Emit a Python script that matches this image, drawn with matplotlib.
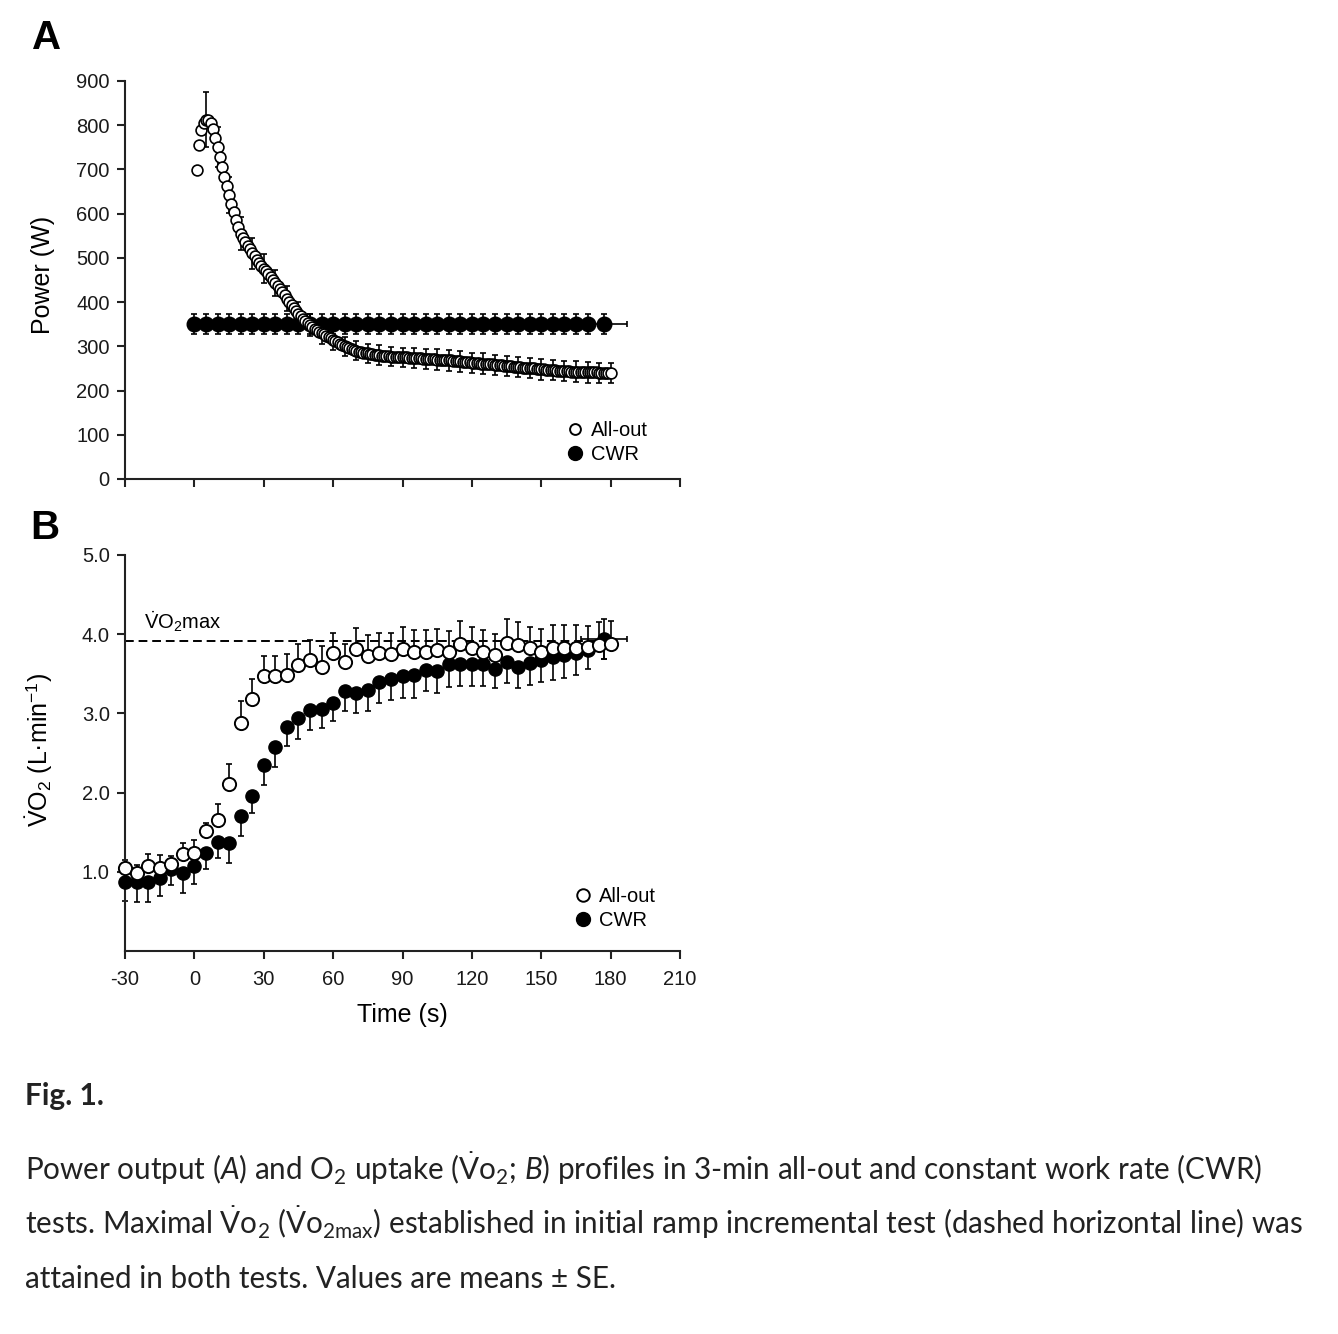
import numpy as np
import matplotlib
matplotlib.use("Agg")
import matplotlib.pyplot as plt
from matplotlib.lines import Line2D

plt.rcParams['font.family'] = ['Liberation Sans', 'DejaVu Sans']
plt.rcParams['axes.unicode_minus'] = False
plt.rcParams['mathtext.fontset'] = 'custom'
plt.rcParams['mathtext.rm'] = 'Liberation Sans'
plt.rcParams['mathtext.sf'] = 'Lato'
plt.rcParams['mathtext.it'] = 'Lato:italic'

# ---- panel A: power output ----
# all-out power, 1-s samples from t = 1 s to 180 s
allout_power = [
    699, 755, 790, 805, 812, 812, 805, 792, 772, 750,
    728, 706, 684, 662, 642, 622, 603, 586, 570, 555,
    545, 535, 527, 519, 511, 504, 496, 489, 482, 476,
    470, 463, 456, 449, 443, 436, 429, 422, 415, 408,
    401, 394, 387, 380, 374, 368, 362, 357, 352, 348,
    344, 340, 336, 333, 330, 327, 324, 321, 318, 315,
    312, 309, 306, 303, 300, 298, 296, 294, 292, 290,
    288, 287, 286, 285, 284, 283, 282, 281, 280, 280,
    279, 279, 278, 278, 277, 277, 276, 276, 276, 275,
    275, 275, 274, 274, 274, 273, 273, 273, 272, 272,
    272, 271, 271, 271, 270, 270, 270, 269, 269, 268,
    268, 267, 267, 266, 266, 265, 265, 264, 264, 263,
    263, 262, 262, 261, 261, 260, 260, 259, 259, 258,
    258, 257, 257, 256, 256, 255, 255, 254, 254, 253,
    253, 252, 252, 251, 251, 250, 250, 249, 249, 248,
    248, 247, 247, 246, 246, 246, 245, 245, 245, 244,
    244, 244, 243, 243, 243, 242, 242, 242, 242, 241,
    241, 241, 241, 241, 240, 240, 240, 240, 240, 240,
]
allout_time = np.arange(1, 181)
# SE of all-out power, shown every 5 s (t = 5 ... 180)
allout_power_se = [
    62, 45, 40, 38, 35, 33, 30, 28, 26, 25, 24, 23,
    22, 22, 22, 22, 22, 22, 22, 23, 23, 23, 23, 23,
    23, 23, 23, 23, 23, 23, 23, 23, 23, 23, 23, 23,
]

cwr_time_a = [0, 5, 10, 15, 20, 25, 30, 35, 40, 45, 50, 55, 60, 65, 70,
              75, 80, 85, 90, 95, 100, 105, 110, 115, 120, 125, 130, 135,
              140, 145, 150, 155, 160, 165, 170, 177]
cwr_power = [350, 350, 350, 350, 350, 350, 350, 350, 350, 350, 350, 350,
             350, 350, 350, 350, 350, 350, 350, 350, 350, 350, 350, 350,
             350, 350, 350, 350, 350, 350, 350, 350, 350, 350, 350, 350]
cwr_power_se = 22
cwr_end_se = 10  # SE of exhaustion time in CWR test (s)

# ---- panel B: VO2 ----
vo2_time = [-30, -25, -20, -15, -10, -5, 0, 5, 10, 15, 20, 25, 30, 35, 40,
            45, 50, 55, 60, 65, 70, 75, 80, 85, 90, 95, 100, 105, 110, 115,
            120, 125, 130, 135, 140, 145, 150, 155, 160, 165, 170, 175, 180]
allout_vo2 = [1.05, 0.99, 1.07, 1.05, 1.10, 1.23, 1.24, 1.52, 1.66, 2.11,
              2.88, 3.18, 3.47, 3.47, 3.48, 3.61, 3.67, 3.59, 3.76, 3.65,
              3.81, 3.73, 3.76, 3.75, 3.81, 3.78, 3.78, 3.80, 3.77, 3.87,
              3.82, 3.78, 3.74, 3.89, 3.86, 3.82, 3.78, 3.83, 3.83, 3.83,
              3.84, 3.86, 3.87]
allout_vo2_se = [0.10, 0.10, 0.16, 0.16, 0.10, 0.13, 0.16, 0.10, 0.19, 0.25,
                 0.28, 0.25, 0.25, 0.25, 0.27, 0.26, 0.26, 0.26, 0.26, 0.22,
                 0.27, 0.26, 0.25, 0.26, 0.28, 0.27, 0.27, 0.26, 0.27, 0.30,
                 0.27, 0.27, 0.26, 0.30, 0.29, 0.27, 0.28, 0.28, 0.29, 0.29,
                 0.26, 0.30, 0.30]

cwr_vo2_time = [-30, -25, -20, -15, -10, -5, 0, 5, 10, 15, 20, 25, 30, 35,
                40, 45, 50, 55, 60, 65, 70, 75, 80, 85, 90, 95, 100, 105,
                110, 115, 120, 125, 130, 135, 140, 145, 150, 155, 160, 165,
                170, 177]
cwr_vo2 = [0.87, 0.87, 0.87, 0.92, 1.03, 0.98, 1.07, 1.24, 1.38, 1.36,
           1.70, 1.96, 2.35, 2.57, 2.83, 2.94, 3.04, 3.06, 3.13, 3.28,
           3.26, 3.29, 3.40, 3.44, 3.47, 3.48, 3.55, 3.54, 3.62, 3.63,
           3.62, 3.62, 3.56, 3.65, 3.59, 3.64, 3.68, 3.71, 3.74, 3.76,
           3.80, 3.94]
cwr_vo2_se = [0.24, 0.25, 0.25, 0.23, 0.20, 0.25, 0.22, 0.20, 0.20, 0.25,
              0.25, 0.22, 0.25, 0.25, 0.24, 0.26, 0.25, 0.25, 0.23, 0.25,
              0.26, 0.26, 0.27, 0.27, 0.28, 0.28, 0.27, 0.28, 0.29, 0.29,
              0.28, 0.28, 0.24, 0.27, 0.27, 0.28, 0.28, 0.29, 0.29, 0.28,
              0.24, 0.25]
vo2max = 3.92

caption = [
    r"Power output ($\mathit{A}$) and O$_{\mathsf{2}}$ uptake "
    r"($\dot{\mathsf{V}}\mathsf{o}_{\mathsf{2}}$; $\mathit{B}$) profiles in "
    r"3-min all-out and constant work rate (CWR)",
    r"tests. Maximal $\dot{\mathsf{V}}\mathsf{o}_{\mathsf{2}}$ "
    r"($\dot{\mathsf{V}}\mathsf{o}_{\mathsf{2max}}$) established in initial "
    r"ramp incremental test (dashed horizontal line) was",
    r"attained in both tests. Values are means ± SE.",
]

W, H = 1338, 1334
fig = plt.figure(figsize=(W / 100, H / 100), dpi=100)
axA = fig.add_axes([125 / W, 1 - 479 / H, 555 / W, 398 / H])
axB = fig.add_axes([125 / W, 1 - 951 / H, 555 / W, 396 / H])

for ax in (axA, axB):
    for s in ('top', 'right'):
        ax.spines[s].set_visible(False)
    for s in ('left', 'bottom'):
        ax.spines[s].set_linewidth(1.5)
        ax.spines[s].set_color('#222222')
    ax.tick_params(direction='out', length=6, width=1.5, color='#222222',
                   labelsize=14.5, pad=5, labelcolor='#1a1a1a')
    ax.tick_params(axis='x', pad=8)
    ax.set_xlim(-30, 210)
    ax.set_xticks(np.arange(-30, 211, 30))
    ax.set_facecolor('none')

ebkw = dict(fmt='none', ecolor='black', elinewidth=1.2, capsize=2.5,
            capthick=1.2, zorder=2, clip_on=False)

# panel A
axA.errorbar(cwr_time_a, cwr_power, yerr=cwr_power_se, **ebkw)
axA.errorbar(cwr_time_a[-1:], cwr_power[-1:], xerr=cwr_end_se, **ebkw)
axA.plot(cwr_time_a, cwr_power, 'o', ms=10.5, color='black', zorder=3)
axA.errorbar(allout_time[4::5], allout_power[4::5], yerr=allout_power_se,
             **ebkw)
axA.plot(allout_time, allout_power, 'o', ms=7.8, mfc='white', mec='black',
         mew=1.2, zorder=4)
axA.set_ylim(0, 900)
axA.set_yticks(np.arange(0, 901, 100))
axA.set_xticklabels([])
axA.set_ylabel('Power (W)', fontsize=18)
axA.yaxis.set_label_coords(-0.127, 0.513)

# panel B
axB.hlines(vo2max, -30, 177, colors='black', linestyles=(0, (4.5, 2.5)),
           lw=1.4, zorder=1)
axB.errorbar(vo2_time, allout_vo2,
             yerr=[np.zeros(len(allout_vo2_se)), allout_vo2_se], **ebkw)
axB.errorbar(cwr_vo2_time, cwr_vo2,
             yerr=[cwr_vo2_se, np.zeros(len(cwr_vo2_se))], **ebkw)
axB.errorbar(cwr_vo2_time[-1:], cwr_vo2[-1:], xerr=cwr_end_se,
             yerr=cwr_vo2_se[-1], **ebkw)
axB.plot(cwr_vo2_time, cwr_vo2, 'o', ms=9.5, color='black', zorder=3,
         clip_on=False)
axB.plot(vo2_time, allout_vo2, 'o', ms=9.5, mfc='white', mec='black',
         mew=1.4, zorder=4, clip_on=False)
axB.set_ylim(0, 5)
axB.set_yticks([1, 2, 3, 4, 5])
axB.set_yticklabels(['1.0', '2.0', '3.0', '4.0', '5.0'])
axB.set_xlabel('Time (s)', fontsize=18, labelpad=10)
axB.set_ylabel(r'$\dot{\mathrm{V}}\mathrm{O}_2$ (L·min$^{-1}$)', fontsize=18)
axB.yaxis.set_label_coords(-0.127, 0.508)
axB.text(-22, 4.07, r'$\dot{\mathrm{V}}\mathrm{O}_2$max', fontsize=14.5,
         va='baseline', ha='left')

# legends
for ax, xy, ms_open, ms_fill in ((axA, (569, 421), 7.8, 10),
                                 (axB, (577, 887), 9, 10)):
    handles = [Line2D([], [], ls='none', marker='o', ms=ms_open, mfc='white',
                      mec='black', mew=1.4),
               Line2D([], [], ls='none', marker='o', ms=ms_fill,
                      color='black')]
    ax.legend(handles, ['All-out', 'CWR'], loc='upper left',
              bbox_to_anchor=(xy[0] / W, 1 - xy[1] / H),
              bbox_transform=fig.transFigure, frameon=False, fontsize=14.5,
              handlelength=0.6, handletextpad=0.5, labelspacing=0.25,
              borderpad=0, borderaxespad=0)

fig.text(47 / W, 1 - 38 / H, 'A', fontsize=29, fontweight='bold',
         ha='center', va='center')
fig.text(45 / W, 1 - 528 / H, 'B', fontsize=29, fontweight='bold',
         ha='center', va='center')

# caption
fig.text(25 / W, 1 - 1105 / H, 'Fig. 1.', fontsize=21.5, fontweight='bold',
         family='Lato', color='#222222', va='baseline')
for i, line in enumerate(caption):
    fig.text(25 / W, 1 - (1180 + 54 * i) / H, line, fontsize=21.3,
             family='Lato', color='#222222', va='baseline')

fig.savefig('out.png', dpi=100, facecolor='white')
